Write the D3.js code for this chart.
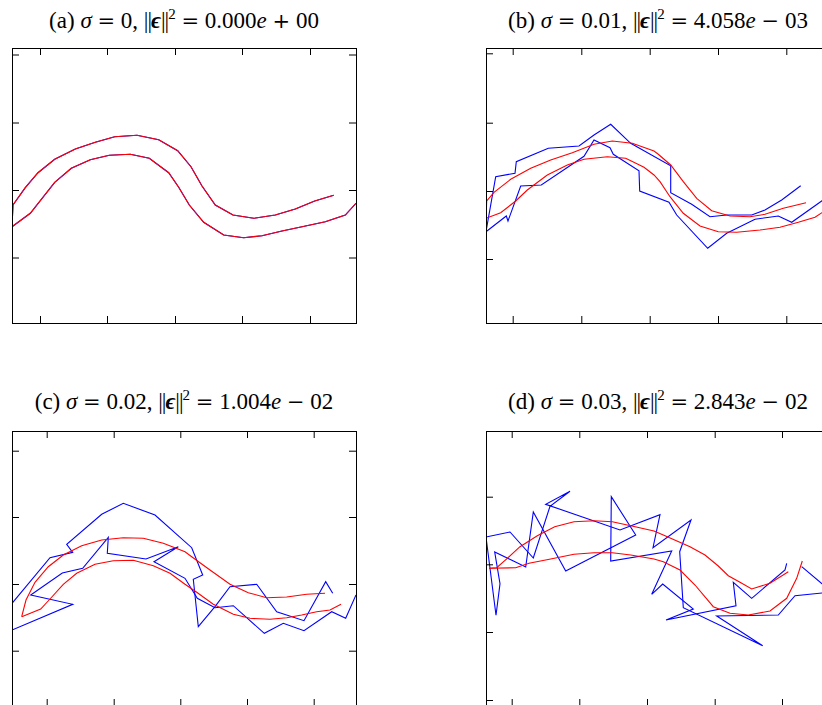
<!DOCTYPE html>
<html>
<head>
<meta charset="utf-8">
<script src="https://cdn.jsdelivr.net/npm/d3@7"></script>
<style>
body { margin: 0; background: #fff; }
svg { display: block; }
.title { font-family: "Liberation Serif", "DejaVu Serif", serif; font-size: 23px; fill: #000; white-space: pre; }
.op { font-family: "DejaVu Serif", serif; font-size: 21px; }
.frame { fill: none; stroke: #000; stroke-width: 1; }
.curve { fill: none; stroke-width: 1.1; stroke-linejoin: miter; }
</style>
</head>
<body>
<svg></svg>
<script>
// panel (a): sigma = 0, the noisy curves equal the fitted ones
const redUpperA = [[0,9.63],[0.1,11.8],[1.33,13.53],[2.6,15.03],[4.27,16.37],[6.33,17.4],[8.33,18.07],[10.27,18.63],[12.5,18.77],[14.67,18.33],[16.57,17.23],[17.9,15.63],[19.0,13.7],[20.33,11.8],[22.1,10.8],[24.17,10.47],[26.33,10.8],[28.33,11.4],[30.27,12.2],[32.17,12.77]]
const redLowerA = [[0,9.63],[1.83,10.97],[4.27,14.07],[5.93,15.47],[7.83,16.33],[9.73,16.77],[11.83,16.87],[13.73,16.47],[15.67,15.03],[16.67,13.57],[17.73,11.8],[19.17,10.07],[21.17,8.8],[23.17,8.53],[25.0,8.73],[27.0,9.2],[29.0,9.63],[31.33,10.13],[33.33,10.8],[34.4,11.97]]
const blueUpperA = redUpperA
const blueLowerA = redLowerA

// panel (b)
const redUpperB = [[0,10.47],[0.07,12.2],[0.8,13.07],[2.47,14.37],[4.47,15.47],[6.47,16.3],[8.63,17.03],[10.8,17.87],[12.63,18.2],[14.63,17.97],[16.8,17.2],[17.23,16.87],[18.47,15.8],[19.73,14.13],[21.07,12.47],[22.57,11.23],[24.4,10.7],[26.4,10.63],[27.9,10.87],[29.73,11.47],[32.0,12.03]]
const redLowerB = [[0,10.47],[1.47,11.03],[2.97,12.2],[4.13,13.3],[6.13,14.8],[8.13,15.8],[9.8,16.37],[12.13,16.63],[13.97,16.47],[15.8,15.57],[16.8,14.8],[17.4,14.13],[18.4,12.63],[19.73,10.97],[21.4,9.7],[23.23,9.13],[25.07,9.07],[27.4,9.3],[29.4,9.57],[31.23,10.07],[32.9,10.57],[33.6,11.03],[34.4,11.9]]
const blueUpperB = [[0,9.13],[0.97,14.63],[2.9,14.97],[3.03,16.13],[6.23,17.47],[9.3,17.7],[10.8,18.8],[12.47,19.87],[14.47,17.97],[18.47,15.73],[18.47,13.03],[20.57,11.87],[22.4,10.63],[24.07,10.8],[26.57,10.8],[27.9,11.3],[29.57,12.3],[31.47,13.73]]
const blueLowerB = [[0,9.13],[2.03,10.7],[2.2,10.2],[3.47,13.7],[5.53,13.8],[9.8,16.67],[10.8,18.3],[12.4,17.53],[12.73,16.87],[15.3,15.23],[15.37,13.2],[18.3,12.07],[19.07,10.8],[22.17,7.47],[24.07,8.97],[26.9,10.37],[29.23,10.7],[30.57,10.07],[33.57,12.2],[34.4,12.79]]

// panel (c)
const redUpperC = [[0.97,8.93],[1.4,10.6],[2.3,12.37],[3.63,13.93],[5.13,15.1],[6.97,16.03],[8.97,16.6],[11.13,16.83],[13.13,16.77],[15.13,16.27],[17.3,15.43],[17.97,14.93],[19.8,13.6],[21.8,12.17],[23.63,11.33],[25.47,10.83],[27.47,10.9],[29.47,11.17],[31.3,11.27]]
const redLowerC = [[0.97,8.93],[2.87,9.7],[3.8,10.7],[5.13,12.17],[6.47,13.27],[8.3,14.17],[10.13,14.53],[12.13,14.57],[14.13,14.03],[15.8,13.27],[17.3,12.17],[18.47,11.37],[20.13,10.17],[22.13,9.17],[23.8,8.77],[25.8,8.67],[27.47,8.83],[28.97,9.1],[30.47,9.43],[31.8,9.6],[32.9,10.17]]
const blueUpperC = [[0,7.6],[0,10.27],[3.8,14.83],[6.07,15.37],[5.47,16.17],[8.97,19.17],[11.13,20.27],[14.3,19.1],[17.97,15.83],[19.07,13.1],[18.13,12.67],[18.63,7.93],[20.3,9.93],[21.8,11.93],[24.47,12.17],[26.47,9.43],[29.2,8.53],[31.37,12.43],[32.07,11.27]]
const blueLowerC = [[0,7.6],[6.07,10.17],[1.87,11.1],[5.03,13.3],[7.07,13.77],[9.63,16.87],[9.53,15.27],[13.4,14.7],[16.63,15.93],[14.2,14.43],[17.3,12.77],[18.53,10.77],[20.3,9.83],[22.13,10.03],[25.23,7.27],[27.13,8.27],[29.2,7.53],[31.97,9.43],[33.37,8.77],[34.4,11.1]]

// panel (d)
const redUpperD = [[0.3,13.77],[1.07,13.83],[2.13,14.77],[3.4,15.93],[5.13,17.03],[6.87,17.93],[8.8,18.43],[10.8,18.53],[12.63,18.43],[14.47,18.03],[16.8,17.5],[17.73,17.1],[20.4,15.93],[21.9,15.1],[23.23,14.0],[24.23,13.03],[25.4,12.37],[26.57,11.7],[28.4,12.27],[30.23,13.43]]
const redLowerD = [[0.3,13.77],[2.97,13.83],[4.3,14.27],[6.47,14.7],[8.8,15.17],[10.8,15.33],[12.63,15.33],[14.47,15.1],[16.8,14.7],[17.73,14.43],[19.4,13.6],[20.9,12.1],[22.73,9.93],[24.4,9.27],[26.23,9.1],[28.4,9.5],[30.07,10.77],[31.07,12.77],[31.63,14.5]]
const blueUpperD = [[0,16.9],[2.4,17.4],[4.73,14.8],[6.4,19.97],[8.4,21.47],[5.97,20.17],[13.4,17.6],[17.4,19.13],[16.7,15.83],[20.5,18.6],[19.37,15.43],[19.73,9.83],[27.67,6.03],[23.07,9.0],[29.23,9.1],[30.9,11.03],[33.9,11.33],[34.23,11.7],[31.57,13.93]]
const blueLowerD = [[0,16.9],[1.0,9.07],[1.4,12.23],[0.87,15.4],[3.97,13.9],[4.73,19.4],[7.97,13.5],[14.97,17.1],[12.53,20.93],[12.47,14.5],[18.57,15.5],[16.57,11.17],[17.67,12.2],[20.73,9.7],[18.0,8.6],[25.0,10.03],[24.73,12.37],[26.57,10.77],[29.9,13.6],[30.07,14.27]]

// tick positions (no labels are shown)
const xTicksA = [2.8, 9.5, 16.3, 23.0, 29.8]
const yTicksA = [6.55, 13.3, 20.05, 26.85]
const xTicksB = [2.67, 9.53, 16.37, 23.2, 30.03]
const yTicksB = [6.4, 13.2, 20.03, 26.97]
const xTicksC = [3.47, 10.17, 16.83, 23.5, 30.17]
const yTicksC = [5.53, 12.2, 18.9, 25.53]
const xTicksD = [2.57, 9.33, 16.1, 22.87, 29.6]
const yTicksD = [0.6, 7.4, 14.17, 20.93]

// title pieces
const labels = ["a", "b", "c", "d"]
const sigmas = ["0", "0.01", "0.02", "0.03"]
const errMant = ["0.000", "4.058", "1.004", "2.843"]
const errSign = ["+", "−", "−", "−"]
const errExp = ["00", "03", "02", "02"]

const W = 344, H = 275
const svg = d3.select("svg").attr("width", 822).attr("height", 705)

const panels = [
    {left: 12, top: 48, titleY: 28, red: [redUpperA, redLowerA], blue: [blueUpperA, blueLowerA], xt: xTicksA, yt: yTicksA},
    {left: 486, top: 48, titleY: 28, red: [redUpperB, redLowerB], blue: [blueUpperB, blueLowerB], xt: xTicksB, yt: yTicksB},
    {left: 12, top: 431, titleY: 409, red: [redUpperC, redLowerC], blue: [blueUpperC, blueLowerC], xt: xTicksC, yt: yTicksC},
    {left: 486, top: 431, titleY: 409, red: [redUpperD, redLowerD], blue: [blueUpperD, blueLowerD], xt: xTicksD, yt: yTicksD}
]

const x = d3.scaleLinear().domain([0, 34.4]).range([0, W])
const y = d3.scaleLinear().domain([0, 27.5]).range([H, 0])

const lineGenerator = d3.line()
    .x(d => x(d[0]))
    .y(d => y(d[1]))

panels.forEach((p, i) => {
    const g = svg.append("g")
        .attr("transform", `translate(${p.left},${p.top})`)

    g.append("clipPath")
        .attr("id", "clip" + i)
        .append("rect")
        .attr("width", W)
        .attr("height", H)

    const plot = g.append("g").attr("clip-path", `url(#clip${i})`)

    plot.selectAll("path.blue")
        .data(p.blue)
        .enter()
        .append("path")
        .attr("class", "curve blue")
        .attr("stroke", "#0000ff")
        .attr("d", d => lineGenerator(d))

    plot.selectAll("path.red")
        .data(p.red)
        .enter()
        .append("path")
        .attr("class", "curve red")
        .attr("stroke", "#ff0000")
        .attr("d", d => lineGenerator(d))

    // inward ticks on all four sides
    const axes = [
        [d3.axisBottom(x).tickValues(p.xt), `translate(0,${H})`],
        [d3.axisTop(x).tickValues(p.xt), "translate(0,0)"],
        [d3.axisLeft(y).tickValues(p.yt), "translate(0,0)"],
        [d3.axisRight(y).tickValues(p.yt), `translate(${W},0)`]
    ]
    axes.forEach(([ax, tr]) => {
        const a = g.append("g")
            .attr("transform", tr)
            .call(ax.tickSize(-7).tickSizeOuter(0).tickFormat(""))
        a.select(".domain").remove()
        a.selectAll("line").attr("stroke", "#000")
    })

    g.append("rect")
        .attr("class", "frame")
        .attr("x", 0.5)
        .attr("y", 0.5)
        .attr("width", W)
        .attr("height", H)

    // title: (x) σ = .., ||ϵ||² = ..e ± ..
    const t = svg.append("text")
        .attr("class", "title")
        .attr("x", p.left + W / 2)
        .attr("y", p.titleY)
        .attr("text-anchor", "middle")
    t.append("tspan").text(`(${labels[i]}) `)
    t.append("tspan").attr("font-style", "italic").text("σ")
    t.append("tspan").text(" ")
    t.append("tspan").attr("class", "op").text("=")
    t.append("tspan").text(` ${sigmas[i]}, `)
    t.append("tspan").attr("letter-spacing", "-1px").text("||")
    t.append("tspan").attr("font-weight", "bold").attr("font-style", "italic").text("ϵ")
    t.append("tspan").attr("letter-spacing", "-1px").text("||")
    t.append("tspan").attr("dy", -9).attr("font-size", "15px").text("2")
    t.append("tspan").attr("dy", 9).text(" ")
    t.append("tspan").attr("class", "op").text("=")
    t.append("tspan").text(` ${errMant[i]}`)
    t.append("tspan").attr("font-style", "italic").text("e")
    t.append("tspan").text(" ")
    t.append("tspan").attr("class", "op").text(errSign[i])
    t.append("tspan").text(` ${errExp[i]}`)
})
</script>
</body>
</html>
